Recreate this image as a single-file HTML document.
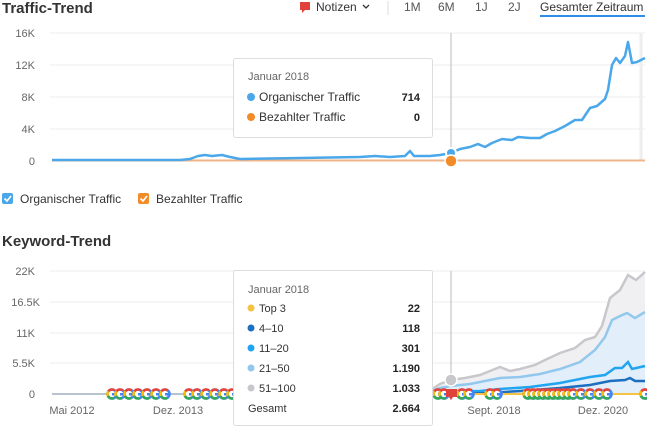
<!DOCTYPE html>
<html><head><meta charset="utf-8"><style>
body{margin:0;width:647px;height:430px;background:#fff;overflow:hidden;font-family:"Liberation Sans",sans-serif;}
svg{display:block}
</style></head><body>
<svg width="647" height="430" viewBox="0 0 647 430" font-family="Liberation Sans, sans-serif">
<defs>
<g id="g"><circle r="4.5" fill="#fff" stroke="#4285f4" stroke-width="2.6"/>
<circle r="4.5" fill="none" stroke="#ea4335" stroke-width="2.6" stroke-dasharray="7 22.3" stroke-dashoffset="-17"/>
<circle r="4.5" fill="none" stroke="#fbbc05" stroke-width="2.6" stroke-dasharray="5 24.3" stroke-dashoffset="-12"/>
<circle r="4.5" fill="none" stroke="#34a853" stroke-width="2.6" stroke-dasharray="7 22.3" stroke-dashoffset="-5"/>
<rect x="0" y="-1" width="5" height="2.5" fill="#4285f4"/></g>
</defs>
<!-- header -->
<text x="2" y="13" font-size="15" font-weight="bold" fill="#333">Traffic-Trend</text>
<path d="M300 2h10v8h-5l-3 3v-3h-2z" fill="#e0413a"/>
<text x="316" y="11" font-size="12" fill="#333">Notizen</text>
<path d="M363 5l3 3 3-3" stroke="#333" fill="none" stroke-width="1.3"/>
<line x1="388" y1="1" x2="388" y2="15" stroke="#ddd"/>
<g font-size="12" fill="#555"><text x="404" y="11">1M</text><text x="438" y="11">6M</text><text x="475" y="11">1J</text><text x="508" y="11">2J</text><text x="540" y="11" fill="#333">Gesamter Zeitraum</text></g>
<line x1="540" y1="16" x2="645" y2="16" stroke="#2e8ee6" stroke-width="2"/>
<!-- traffic chart -->
<g stroke="#eceef2"><line x1="50" y1="33" x2="645" y2="33"/><line x1="50" y1="65" x2="645" y2="65"/><line x1="50" y1="97" x2="645" y2="97"/><line x1="50" y1="129" x2="645" y2="129"/></g>
<g font-size="11" fill="#666" text-anchor="end"><text x="35" y="37">16K</text><text x="35" y="69">12K</text><text x="35" y="101">8K</text><text x="35" y="133">4K</text><text x="35" y="165">0</text></g>
<line x1="451" y1="33" x2="451" y2="161" stroke="#bbb"/>
<line x1="641" y1="33" x2="641" y2="161" stroke="#eee" stroke-width="3"/>
<line x1="52" y1="160.5" x2="645" y2="160.5" stroke="#f0b48a" stroke-width="2"/>
<polyline fill="none" stroke="#4aa8ea" stroke-width="2.5" stroke-linejoin="round" points="52,160 180,160 190,159 198,156 205,155 212,156 222,155 230,157 240,159 300,158 360,157 375,156 390,157 405,156 410,151 414,156 430,156 440,155 451,153 460,149 470,147 478,144 485,147 492,143 502,139 512,140 518,137 530,138 540,138 547,134 555,131 565,126 575,120 582,120 590,108 597,106 605,99 608,90 612,65 616,58 620,63 625,56 628,42 632,63 637,62 645,58"/>
<circle cx="451" cy="153" r="5" fill="#4aa8ea" stroke="#fff" stroke-width="2"/>
<circle cx="451" cy="161" r="6" fill="#f28c28" stroke="#fff" stroke-width="1.5"/>
<rect x="233.5" y="58.5" width="199" height="79" rx="2" fill="#fff" stroke="#ddd"/>
<text x="248" y="80" font-size="11" fill="#666">Januar 2018</text>
<circle cx="251" cy="97" r="4" fill="#4aa8ea"/><text x="259" y="101" font-size="12" fill="#333">Organischer Traffic</text><text x="420" y="101" font-size="11" font-weight="bold" fill="#222" text-anchor="end">714</text>
<circle cx="251" cy="117" r="4" fill="#f28c28"/><text x="259" y="121" font-size="12" fill="#333">Bezahlter Traffic</text><text x="420" y="121" font-size="11" font-weight="bold" fill="#222" text-anchor="end">0</text>
<!-- legend -->
<rect x="2" y="193" width="11" height="11" rx="2" fill="#4aa8ea"/><path d="M4.5 198.5l2.5 2.5 4-5" stroke="#fff" stroke-width="1.6" fill="none"/>
<text x="20" y="203" font-size="12" fill="#333">Organischer Traffic</text>
<rect x="138" y="193" width="11" height="11" rx="2" fill="#f28c28"/><path d="M140.5 198.5l2.5 2.5 4-5" stroke="#fff" stroke-width="1.6" fill="none"/>
<text x="156" y="203" font-size="12" fill="#333">Bezahlter Traffic</text>
<!-- keyword -->
<text x="2" y="246" font-size="15" font-weight="bold" fill="#333">Keyword-Trend</text>
<g stroke="#eceef2"><line x1="50" y1="271" x2="645" y2="271"/><line x1="50" y1="302" x2="645" y2="302"/><line x1="50" y1="333" x2="645" y2="333"/><line x1="50" y1="363" x2="645" y2="363"/></g>
<g font-size="11" fill="#666" text-anchor="end"><text x="35" y="275">22K</text><text x="40" y="306">16.5K</text><text x="35" y="337">11K</text><text x="35" y="367">5.5K</text><text x="35" y="398">0</text></g>
<line x1="451" y1="271" x2="451" y2="400" stroke="#bbb"/>
<polygon fill="#f0f0f2" points="430,394 440,384 451,380 465,378 480,375 490,371 500,367 510,371 520,369 535,365 545,360 560,353 575,348 585,340 595,337 602,326 610,298 620,290 628,275 636,280 645,272 645,394"/>
<polygon fill="#e2eefa" points="430,394 440,388 451,386 470,384 490,380 500,378 520,377 540,374 560,369 580,362 595,350 605,337 612,320 620,316 627,313 635,318 645,312 645,394"/>
<polyline fill="none" stroke="#c8c8cc" stroke-width="2.5" points="425,394 440,384 451,380 465,378 480,375 490,371 500,367 510,371 520,369 535,365 545,360 560,353 575,348 585,340 595,337 602,326 610,298 620,290 628,275 636,280 645,272"/>
<polyline fill="none" stroke="#92c8ee" stroke-width="2.5" points="425,394 440,388 451,386 470,384 490,380 500,378 520,377 540,374 560,369 580,362 595,350 605,337 612,320 620,316 627,313 635,318 645,312"/>
<polyline fill="none" stroke="#21a5f0" stroke-width="2.5" points="430,394 451,392 480,391 500,389 530,387 560,383 590,377 605,375 615,368 622,368 628,362 632,369 645,366"/>
<polyline fill="none" stroke="#1d6fbf" stroke-width="2.5" points="440,394 451,394 490,393 520,391 560,388 590,385 610,381 625,380 630,378 635,381 645,381"/>
<line x1="52" y1="394" x2="645" y2="394" stroke="#b9c3d0" stroke-width="2"/>
<line x1="470" y1="394" x2="645" y2="394" stroke="#f5c242" stroke-width="2"/>
<circle cx="451" cy="380" r="6" fill="#c8c8cc" stroke="#fff" stroke-width="1.5"/>
<g>
<use href="#g" x="112" y="394"/><use href="#g" x="120" y="394"/><use href="#g" x="129" y="394"/><use href="#g" x="138" y="394"/><use href="#g" x="147" y="394"/><use href="#g" x="156" y="394"/><use href="#g" x="165" y="394"/>
<use href="#g" x="189" y="394"/><use href="#g" x="197" y="394"/><use href="#g" x="206" y="394"/><use href="#g" x="215" y="394"/><use href="#g" x="224" y="394"/><use href="#g" x="232" y="394"/>
<use href="#g" x="438" y="394"/><use href="#g" x="444" y="394"/><use href="#g" x="462" y="394"/><use href="#g" x="469" y="394"/>
<use href="#g" x="490" y="394"/><use href="#g" x="497" y="394"/>
<use href="#g" x="528" y="394"/><use href="#g" x="533" y="394"/><use href="#g" x="538" y="394"/><use href="#g" x="543" y="394"/><use href="#g" x="548" y="394"/><use href="#g" x="553" y="394"/><use href="#g" x="558" y="394"/><use href="#g" x="563" y="394"/><use href="#g" x="568" y="394"/><use href="#g" x="573" y="394"/><use href="#g" x="581" y="394"/><use href="#g" x="590" y="394"/><use href="#g" x="599" y="394"/><use href="#g" x="607" y="394"/>
<use href="#g" x="645" y="394"/>
</g>
<path d="M446 389h11v8h-4l-2 3-2-3h-3z" fill="#e0413a"/>
<g font-size="11" fill="#666" text-anchor="middle"><text x="72" y="414">Mai 2012</text><text x="178" y="414">Dez. 2013</text><text x="494" y="414">Sept. 2018</text><text x="603" y="414">Dez. 2020</text></g>
<rect x="233.5" y="270.5" width="199" height="155" rx="2" fill="#fff" stroke="#ddd"/>
<text x="248" y="293" font-size="11" fill="#666">Januar 2018</text>
<g font-size="11" fill="#333">
<circle cx="251" cy="308" r="3.5" fill="#f5c242"/><text x="259" y="312">Top 3</text>
<circle cx="251" cy="328" r="3.5" fill="#1d6fbf"/><text x="259" y="332">4–10</text>
<circle cx="251" cy="348" r="3.5" fill="#21a5f0"/><text x="259" y="352">11–20</text>
<circle cx="251" cy="368" r="3.5" fill="#92c8ee"/><text x="259" y="372">21–50</text>
<circle cx="251" cy="388" r="3.5" fill="#c8c8cc"/><text x="259" y="392">51–100</text>
<text x="248" y="412">Gesamt</text>
</g>
<g font-size="11" font-weight="bold" fill="#222" text-anchor="end"><text x="420" y="312">22</text><text x="420" y="332">118</text><text x="420" y="352">301</text><text x="420" y="372">1.190</text><text x="420" y="392">1.033</text><text x="420" y="412">2.664</text></g>
</svg>
</body></html>
